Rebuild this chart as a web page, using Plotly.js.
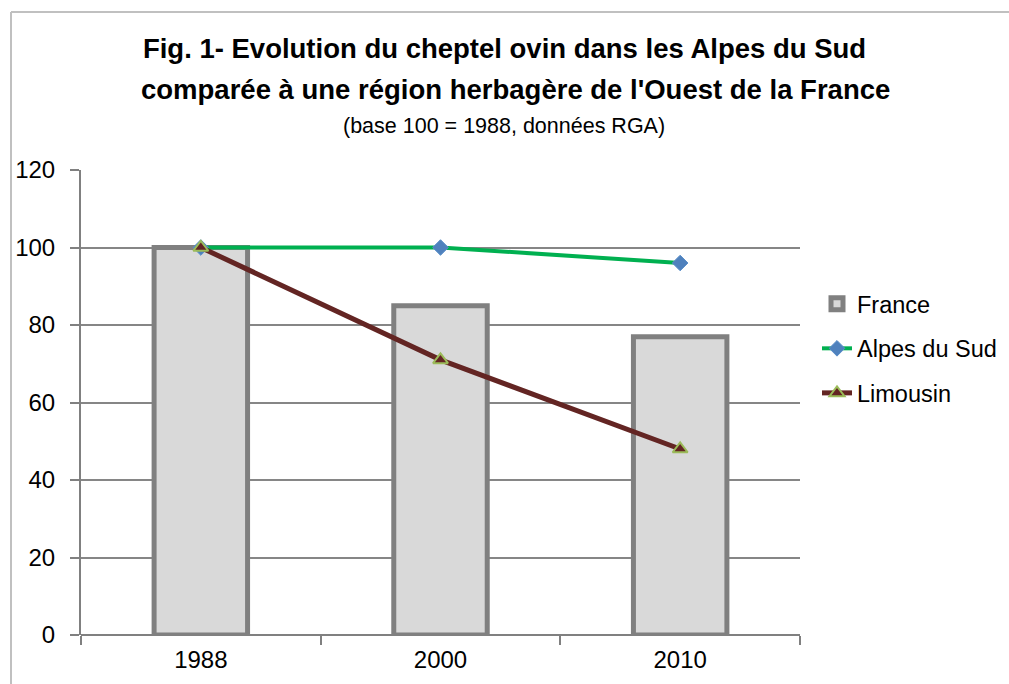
<!DOCTYPE html>
<html>
<head>
<meta charset="utf-8">
<script src="https://cdn.plot.ly/plotly-3.0.1.min.js"></script>
<style>html,body{margin:0;padding:0;background:#fff;}#chart{width:1009px;height:684px;}</style>
</head>
<body>
<div id="chart"></div>
<script>
const years = ['1988', '2000', '2010'];
const france = [100, 85, 77];
const alpesDuSud = [100, 100, 96];
const limousin = [100, 71, 48];
const yTicks = [0, 20, 40, 60, 80, 100, 120];

const titleLine1 = 'Fig. 1- Evolution du cheptel ovin dans les Alpes du Sud';
const titleLine2 = "comparée à une région herbagère de l'Ouest de la France";
const subtitle = '(base 100 = 1988, données RGA)';

const FONT = 'Liberation Sans, Arial, sans-serif';

// plot area in pixels: x 81..800, y 170..635
const L = 81, R = 800, T = 170, B = 635;
const px2x = p => (p - L) / (R - L);
const px2y = p => (B - p) / (B - T);

const traces = [
  {
    type: 'bar', name: 'France', x: years, y: france, width: 0.39,
    marker: {color: '#d9d9d9', line: {color: '#808080', width: 5}},
    legendgroup: 'a'
  },
  {
    type: 'scatter', mode: 'lines+markers', name: 'Alpes du Sud', x: years, y: alpesDuSud,
    line: {color: '#00b050', width: 4},
    marker: {symbol: 'diamond', size: 12, color: '#4f81bd', line: {color: '#5b8fc9', width: 1}},
    legendgroup: 'b'
  },
  {
    type: 'scatter', mode: 'lines+markers', name: 'Limousin', x: years, y: limousin,
    line: {color: '#632523', width: 5},
    marker: {symbol: 'triangle-up', size: 13, color: '#632523', line: {color: '#9bbb59', width: 2}},
    legendgroup: 'c'
  }
];

const layout = {
  width: 1009, height: 684,
  margin: {l: L, r: 1009 - R, t: T, b: 684 - B, pad: 0, autoexpand: false},
  paper_bgcolor: '#ffffff', plot_bgcolor: '#ffffff',
  font: {family: FONT, size: 24, color: '#000'},
  title: {
    text: '<b>' + titleLine1 + '</b>',
    font: {family: FONT, size: 27.5, color: '#000'},
    x: 0.5, xref: 'container', xanchor: 'center',
    y: 1 - 48 / 684, yref: 'container', yanchor: 'middle'
  },
  annotations: [
    {
      text: '<b>' + titleLine2 + '</b>', xref: 'paper', yref: 'paper', x: px2x(515), y: px2y(89),
      xanchor: 'center', yanchor: 'middle', showarrow: false,
      font: {family: FONT, size: 27.5, color: '#000'}
    },
    {
      text: subtitle, xref: 'paper', yref: 'paper', x: px2x(504), y: px2y(126),
      xanchor: 'center', yanchor: 'middle', showarrow: false,
      font: {family: FONT, size: 21.5, color: '#000'}
    }
  ],
  xaxis: {
    type: 'category', range: [-0.5, 2.5],
    showline: false, showgrid: false, zeroline: false,
    ticks: 'outside', tickson: 'boundaries', ticklen: 9, tickwidth: 2, tickcolor: '#808080',
    tickfont: {family: FONT, size: 24, color: '#000'}, ticklabelstandoff: 8
  },
  yaxis: {
    range: [0, 120], tickvals: yTicks,
    showline: true, linecolor: '#808080', linewidth: 2,
    showgrid: true, gridcolor: '#868686', gridwidth: 2,
    zeroline: true, zerolinecolor: '#808080', zerolinewidth: 2.5,
    ticks: 'outside', ticklen: 9, tickwidth: 2, tickcolor: '#808080',
    tickfont: {family: FONT, size: 24, color: '#000'}, ticklabelstandoff: 10
  },
  legend: {
    x: px2x(817), y: px2y(282), xanchor: 'left', yanchor: 'top',
    traceorder: 'grouped', tracegroupgap: 11,
    font: {family: FONT, size: 23.5, color: '#000'},
    bgcolor: 'rgba(0,0,0,0)', borderwidth: 0
  },
  shapes: [
    {type: 'line', xref: 'paper', yref: 'paper', x0: px2x(11), x1: px2x(1020), y0: px2y(12), y1: px2y(12), line: {color: '#c0c0c0', width: 2}},
    {type: 'line', xref: 'paper', yref: 'paper', x0: px2x(11), x1: px2x(11), y0: px2y(12), y1: px2y(700), line: {color: '#c0c0c0', width: 2}}
  ],
  showlegend: true
};

Plotly.newPlot('chart', traces, layout, {displayModeBar: false, staticPlot: true});
</script>
</body>
</html>
